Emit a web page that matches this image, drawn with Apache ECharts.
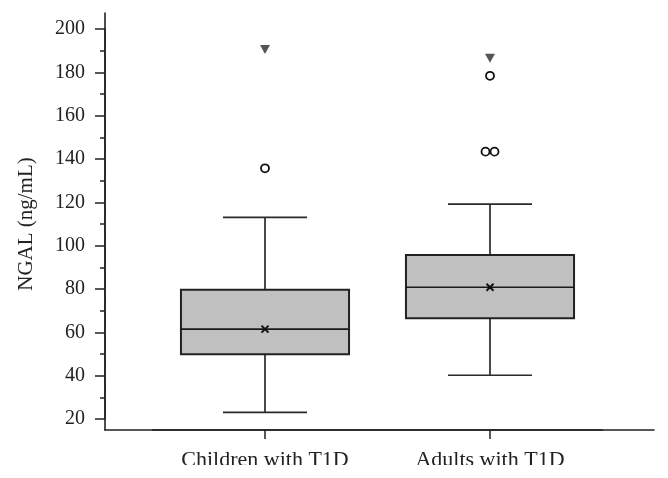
<!DOCTYPE html>
<html>
<head>
<meta charset="utf-8">
<script src="https://cdn.jsdelivr.net/npm/echarts@6/dist/echarts.min.js"></script>
<style>html,body{margin:0;padding:0;background:#fff}#c{width:668px;height:478px}</style>
</head>
<body>
<div id="c"></div>
<script>
var categories = ['Children with T1D', 'Adults with T1D'];
var lowerWhisker = [23.1, 40.2];
var q1 = [49.9, 66.5];
var median = [61.5, 80.8];
var q3 = [79.7, 95.7];
var upperWhisker = [113.1, 119.2];
var means = [61.5, 80.8];
var outlierCats = [0, 1, 1, 1];
var outlierVals = [135.7, 178.4, 143.4, 143.4];
var extremeCats = [0, 1];
var extremeVals = [190.5, 186.5];
var yTicks = {min: 20, max: 200, interval: 20};

var FONT = 'Liberation Serif';
var DARK = '#222';

var boxData = categories.map(function (c, i) {
  return [i, lowerWhisker[i], q1[i], median[i], q3[i], upperWhisker[i], means[i]];
});

// dodge identical outliers within a category
var outlierData = outlierVals.map(function (v, i) {
  var same = [];
  outlierVals.forEach(function (w, j) { if (outlierCats[j] === outlierCats[i] && w === v) same.push(j); });
  var k = same.indexOf(i), n = same.length;
  return { value: [outlierCats[i], v], symbolOffset: [(k - (n - 1) / 2) * 9, 0] };
});
var extremeData = extremeVals.map(function (v, i) { return [extremeCats[i], v]; });

function renderBox(params, api) {
  var ci = api.value(0);
  var band = api.size([1, 0])[0];
  var bw = band * 0.747, cw = bw / 2;
  var pLow = api.coord([ci, api.value(1)]);
  var pQ1 = api.coord([ci, api.value(2)]);
  var pMed = api.coord([ci, api.value(3)]);
  var pQ3 = api.coord([ci, api.value(4)]);
  var pHigh = api.coord([ci, api.value(5)]);
  var pMean = api.coord([ci, api.value(6)]);
  var x = pMed[0];
  var ls = { stroke: '#2a2a2a', lineWidth: 1.7 };
  var m = 3.5;
  return {
    type: 'group',
    children: [
      { type: 'line', shape: { x1: x, y1: pHigh[1], x2: x, y2: pQ3[1] }, style: ls },
      { type: 'line', shape: { x1: x, y1: pQ1[1], x2: x, y2: pLow[1] }, style: ls },
      { type: 'line', shape: { x1: x - cw / 2, y1: pHigh[1], x2: x + cw / 2, y2: pHigh[1] }, style: ls },
      { type: 'line', shape: { x1: x - cw / 2, y1: pLow[1], x2: x + cw / 2, y2: pLow[1] }, style: ls },
      { type: 'rect', shape: { x: x - bw / 2, y: pQ3[1], width: bw, height: pQ1[1] - pQ3[1] },
        style: { fill: '#c0c0c0', stroke: '#222', lineWidth: 2 } },
      { type: 'line', shape: { x1: x - bw / 2, y1: pMed[1], x2: x + bw / 2, y2: pMed[1] }, style: { stroke: '#1a1a1a', lineWidth: 1.7 } },
      { type: 'line', shape: { x1: pMean[0] - m, y1: pMean[1] - m, x2: pMean[0] + m, y2: pMean[1] + m }, style: { stroke: '#111', lineWidth: 2 } },
      { type: 'line', shape: { x1: pMean[0] - m, y1: pMean[1] + m, x2: pMean[0] + m, y2: pMean[1] - m }, style: { stroke: '#111', lineWidth: 2 } }
    ]
  };
}

var chart = echarts.init(document.getElementById('c'), null, { renderer: 'canvas' });
chart.setOption({
  animation: false,
  backgroundColor: '#fff',
  grid: [
    { left: 152.5, right: 65.5, top: 29, bottom: 59 },
    { left: 105, right: 14, top: 13, bottom: 48 }
  ],
  xAxis: [
    {
      gridIndex: 0, type: 'category', data: categories, offset: 11,
      axisLine: { show: true, lineStyle: { color: DARK, width: 1.6 } },
      axisTick: { show: true, alignWithLabel: true, length: 9, lineStyle: { color: DARK, width: 1.5 } },
      axisLabel: { color: DARK, fontFamily: FONT, fontSize: 22, margin: 19 },
      splitLine: { show: false }
    },
    {
      gridIndex: 1, type: 'value', min: 0, max: 1,
      axisLine: { show: true, onZero: false, lineStyle: { color: DARK, width: 1.6 } },
      axisTick: { show: false }, axisLabel: { show: false }, splitLine: { show: false }
    }
  ],
  yAxis: [
    {
      gridIndex: 0, type: 'value', min: yTicks.min, max: yTicks.max, interval: yTicks.interval, offset: 47.5,
      name: 'NGAL (ng/mL)', nameLocation: 'middle', nameGap: 68,
      nameTextStyle: { color: DARK, fontFamily: FONT, fontSize: 21 },
      axisLine: { show: true, lineStyle: { color: DARK, width: 1.6 } },
      axisTick: { show: true, length: 10, lineStyle: { color: DARK, width: 1.5 } },
      minorTick: { show: true, splitNumber: 2, length: 5, lineStyle: { color: DARK, width: 1.5 } },
      axisLabel: { color: DARK, fontFamily: FONT, fontSize: 20, margin: 20 },
      splitLine: { show: false }, minorSplitLine: { show: false }
    },
    {
      gridIndex: 1, type: 'value', min: 0, max: 1,
      axisLine: { show: true, onZero: false, lineStyle: { color: DARK, width: 1.6 } },
      axisTick: { show: false }, axisLabel: { show: false }, splitLine: { show: false }
    }
  ],
  series: [
    {
      type: 'custom', xAxisIndex: 0, yAxisIndex: 0, data: boxData,
      renderItem: renderBox, encode: { x: 0, y: [1, 2, 3, 4, 5] }, z: 2
    },
    {
      type: 'scatter', xAxisIndex: 0, yAxisIndex: 0, data: outlierData,
      symbol: 'circle', symbolSize: 8,
      itemStyle: { color: '#fff', borderColor: '#111', borderWidth: 1.8, opacity: 1 }, z: 3
    },
    {
      type: 'scatter', xAxisIndex: 0, yAxisIndex: 0, data: extremeData,
      symbol: 'triangle', symbolRotate: 180, symbolSize: [10, 9],
      itemStyle: { color: '#555', opacity: 1 }, z: 3
    }
  ],
  graphic: [
    { type: 'rect', left: 0, top: 465, shape: { width: 668, height: 13 }, style: { fill: '#fff' }, z: 100 }
  ]
});
</script>
</body>
</html>
